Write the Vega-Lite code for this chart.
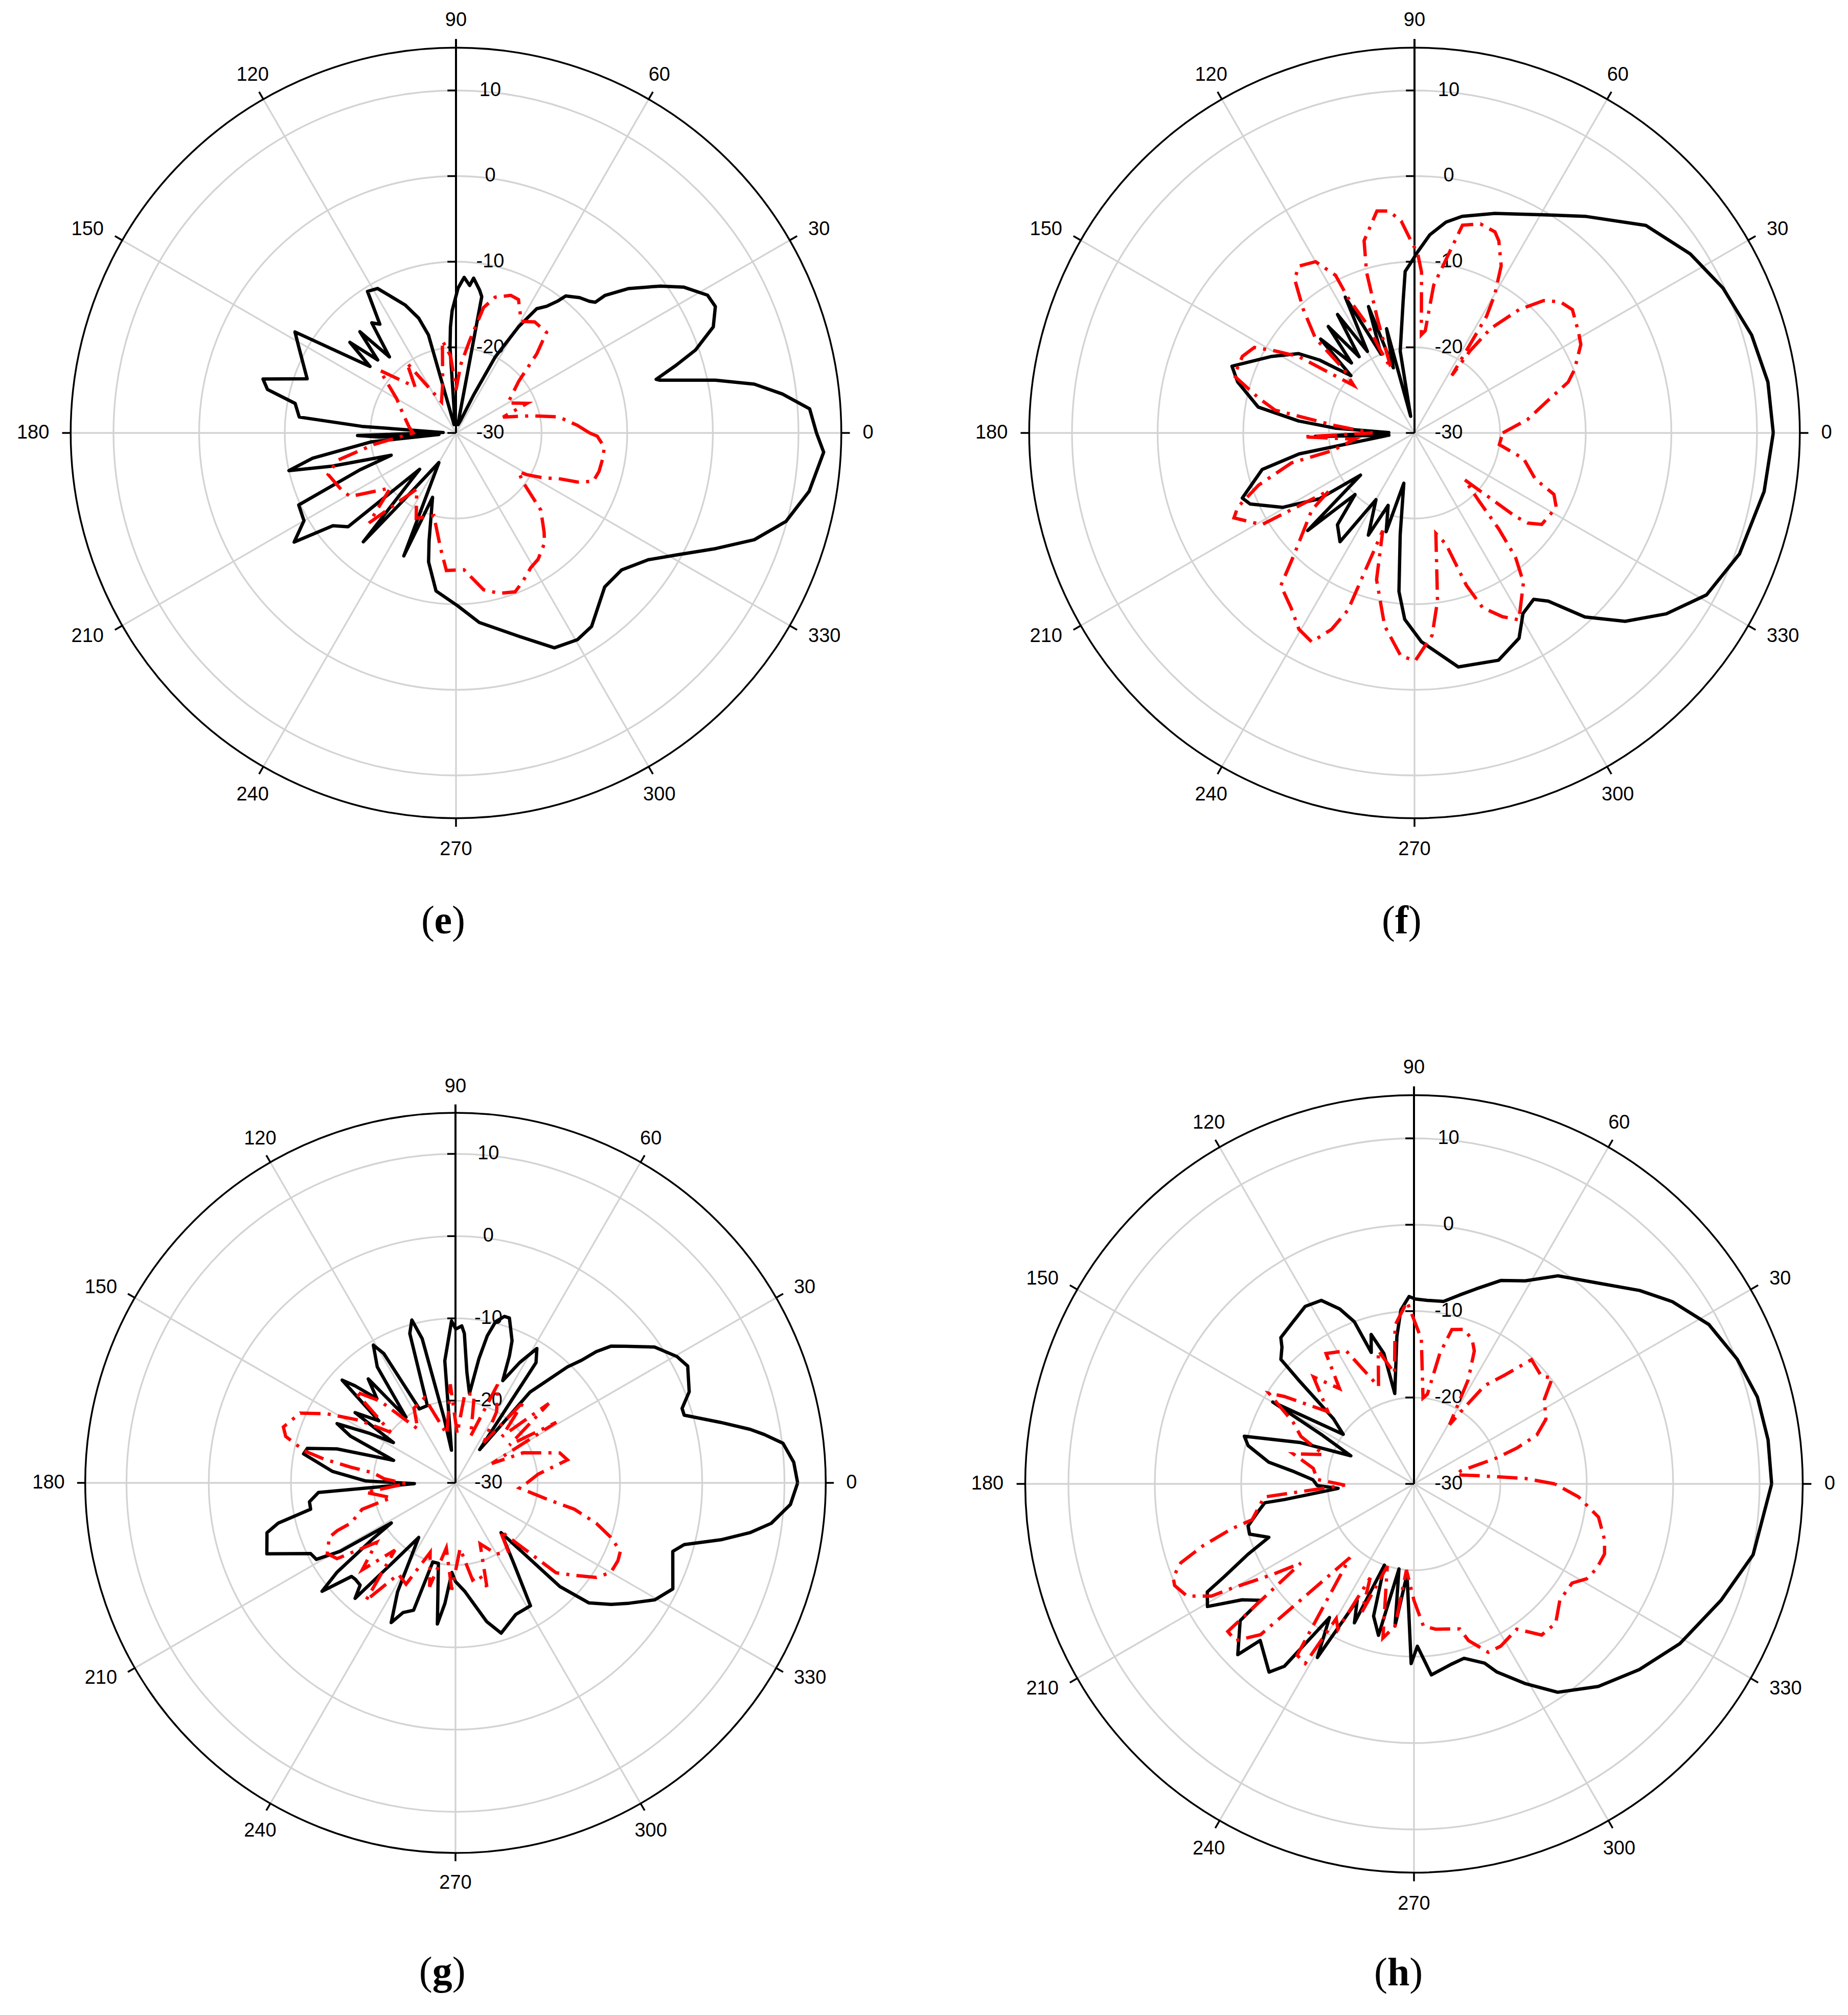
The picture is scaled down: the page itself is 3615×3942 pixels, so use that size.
{
"$schema": "https://vega.github.io/schema/vega-lite/v6.json",
"background": "white",
"padding": 0,
"bounds": "flush",
"spacing": 0,
"columns": 2,
"config": {"view": {"stroke": null}, "concat": {"spacing": 0}},
"datasets": {
"ang": [{"a":0},{"a":30},{"a":60},{"a":90},{"a":120},{"a":150},{"a":180},{"a":210},{"a":240},{"a":270},{"a":300},{"a":330}],
"db": [{"v":-30},{"v":-20},{"v":-10},{"v":0},{"v":10}],
"ring": [{"v":-20},{"v":-10},{"v":0},{"v":10}],
"outer": [{"v":15}],
"one": [{"k":1}],
"e": [
{"s":"co","a":0,"v":12.1},{"s":"co","a":3.9,"v":11.4},{"s":"co","a":6.8,"v":8.4},{"s":"co","a":9.3,"v":5.3},{"s":"co","a":11.5,"v":0.9},{"s":"co","a":14.5,"v":-5.4},{"s":"co","a":15,"v":-5.8},{"s":"co","a":17.1,"v":-3.1},{"s":"co","a":19.1,"v":-0.4},{"s":"co","a":22.4,"v":2.5},{"s":"co","a":26,"v":3.7},{"s":"co","a":28.7,"v":3.5},{"s":"co","a":32.6,"v":1.6},{"s":"co","a":35.7,"v":-0.6},{"s":"co","a":39.9,"v":-3.7},{"s":"co","a":42.7,"v":-6.3},{"s":"co","a":43.2,"v":-7.7},{"s":"co","a":44.6,"v":-8.1},{"s":"co","a":47.6,"v":-8.6},{"s":"co","a":51.3,"v":-9.5},{"s":"co","a":52.3,"v":-10.5},{"s":"co","a":54.4,"v":-11.8},{"s":"co","a":57,"v":-12.7},{"s":"co","a":59.5,"v":-15.6},{"s":"co","a":62.7,"v":-20},{"s":"co","a":65,"v":-25},{"s":"co","a":70,"v":-28.5},{"s":"co","a":76,"v":-29},{"s":"co","a":78.5,"v":-28},{"s":"co","a":79.3,"v":-13.8},{"s":"co","a":80.6,"v":-13.1},{"s":"co","a":83.5,"v":-11.8},{"s":"co","a":84.7,"v":-12.7},{"s":"co","a":87,"v":-11.8},{"s":"co","a":89.2,"v":-13.1},{"s":"co","a":91.8,"v":-15.7},{"s":"co","a":93,"v":-17.6},{"s":"co","a":94,"v":-20},{"s":"co","a":96,"v":-29},{"s":"co","a":103,"v":-29},{"s":"co","a":105.7,"v":-18.1},{"s":"co","a":108,"v":-15.9},{"s":"co","a":111.7,"v":-13.9},{"s":"co","a":118.5,"v":-10.8},{"s":"co","a":122,"v":-10.5},{"s":"co","a":125,"v":-14.5},{"s":"co","a":127.4,"v":-13.8},{"s":"co","a":131.2,"v":-18.2},{"s":"co","a":133.5,"v":-13.7},{"s":"co","a":137,"v":-17.5},{"s":"co","a":139.5,"v":-13.7},{"s":"co","a":142.3,"v":-17.3},{"s":"co","a":147.9,"v":-7.8},{"s":"co","a":151.7,"v":-9.2},{"s":"co","a":160,"v":-11.5},{"s":"co","a":164.4,"v":-6.6},{"s":"co","a":167,"v":-7.4},{"s":"co","a":169.6,"v":-10.9},{"s":"co","a":174.2,"v":-11.6},{"s":"co","a":176,"v":-19},{"s":"co","a":178,"v":-28.5},{"s":"co","a":180,"v":-27},{"s":"co","a":181.5,"v":-18.5},{"s":"co","a":183,"v":-21},{"s":"co","a":185,"v":-28},{"s":"co","a":186,"v":-20},{"s":"co","a":190,"v":-13},{"s":"co","a":192.7,"v":-10},{"s":"co","a":195,"v":-15},{"s":"co","a":199,"v":-22},{"s":"co","a":201,"v":-18},{"s":"co","a":204.6,"v":-9.8},{"s":"co","a":210,"v":-9.5},{"s":"co","a":214,"v":-7.2},{"s":"co","a":217,"v":-12},{"s":"co","a":221,"v":-13.3},{"s":"co","a":225,"v":-24},{"s":"co","a":229.6,"v":-13.3},{"s":"co","a":232,"v":-20},{"s":"co","a":240,"v":-26},{"s":"co","a":247,"v":-14.4},{"s":"co","a":250,"v":-22},{"s":"co","a":256,"v":-17},{"s":"co","a":258,"v":-14.6},{"s":"co","a":262.8,"v":-11.4},{"s":"co","a":270.6,"v":-9.8},{"s":"co","a":277,"v":-7.7},{"s":"co","a":287,"v":-5.2},{"s":"co","a":294.6,"v":-2.4},{"s":"co","a":300.4,"v":-2.0},{"s":"co","a":305,"v":-2.4},{"s":"co","a":314,"v":-5.0},{"s":"co","a":320.4,"v":-4.9},{"s":"co","a":326.6,"v":-3.1},{"s":"co","a":331,"v":-0.6},{"s":"co","a":336,"v":3.2},{"s":"co","a":340.3,"v":7.0},{"s":"co","a":345,"v":9.9},{"s":"co","a":350.6,"v":11.8},{"s":"co","a":357,"v":13.0},{"s":"co","a":360,"v":12.1},
{"s":"cx","a":0,"v":-14.4},{"s":"cx","a":3.6,"v":-15.8},{"s":"cx","a":9,"v":-17.9},{"s":"cx","a":13,"v":-21.1},{"s":"cx","a":18.6,"v":-24.2},{"s":"cx","a":22.6,"v":-21},{"s":"cx","a":30,"v":-23},{"s":"cx","a":39.5,"v":-20.5},{"s":"cx","a":44.4,"v":-16.8},{"s":"cx","a":48,"v":-14.2},{"s":"cx","a":54.7,"v":-14.1},{"s":"cx","a":59.7,"v":-14.9},{"s":"cx","a":64.9,"v":-12.8},{"s":"cx","a":68.3,"v":-12.7},{"s":"cx","a":73.9,"v":-13.5},{"s":"cx","a":77.6,"v":-15},{"s":"cx","a":81.6,"v":-19.1},{"s":"cx","a":86,"v":-22},{"s":"cx","a":90,"v":-25},{"s":"cx","a":94,"v":-21},{"s":"cx","a":98.4,"v":-19.1},{"s":"cx","a":105,"v":-24},{"s":"cx","a":115,"v":-26},{"s":"cx","a":125,"v":-20},{"s":"cx","a":131.6,"v":-22.8},{"s":"cx","a":140.6,"v":-18.5},{"s":"cx","a":150,"v":-22},{"s":"cx","a":160,"v":-23.4},{"s":"cx","a":173,"v":-24.5},{"s":"cx","a":180,"v":-25},{"s":"cx","a":188,"v":-20.3},{"s":"cx","a":193,"v":-15.8},{"s":"cx","a":198,"v":-14.3},{"s":"cx","a":207,"v":-15.1},{"s":"cx","a":211,"v":-15.6},{"s":"cx","a":220,"v":-20},{"s":"cx","a":226,"v":-15.4},{"s":"cx","a":235,"v":-22},{"s":"cx","a":245,"v":-19},{"s":"cx","a":255,"v":-20},{"s":"cx","a":262.4,"v":-16.4},{"s":"cx","a":266,"v":-13.9},{"s":"cx","a":273.3,"v":-14},{"s":"cx","a":280,"v":-11.4},{"s":"cx","a":285.1,"v":-10.6},{"s":"cx","a":290.4,"v":-10.2},{"s":"cx","a":294.3,"v":-11},{"s":"cx","a":299,"v":-12},{"s":"cx","a":303,"v":-12.4},{"s":"cx","a":308.8,"v":-13.5},{"s":"cx","a":311.6,"v":-14.5},{"s":"cx","a":317.7,"v":-16.6},{"s":"cx","a":324,"v":-20.4},{"s":"cx","a":328.2,"v":-21.4},{"s":"cx","a":329.5,"v":-20.4},{"s":"cx","a":333,"v":-18.4},{"s":"cx","a":336,"v":-16.9},{"s":"cx","a":338,"v":-14.7},{"s":"cx","a":340.6,"v":-13},{"s":"cx","a":345,"v":-12.7},{"s":"cx","a":350.3,"v":-12.6},{"s":"cx","a":354.5,"v":-12.6},{"s":"cx","a":358.7,"v":-13.5},{"s":"cx","a":360,"v":-14.4}
],
"f": [
{"s":"co","a":0,"v":11.9},{"s":"co","a":8.2,"v":11.7},{"s":"co","a":16.2,"v":11.0},{"s":"co","a":25.2,"v":9.8},{"s":"co","a":33,"v":8.4},{"s":"co","a":41.9,"v":6.3},{"s":"co","a":51.8,"v":2.2},{"s":"co","a":59.4,"v":-0.4},{"s":"co","a":69.9,"v":-2.7},{"s":"co","a":77.6,"v":-4.1},{"s":"co","a":81.5,"v":-5.1},{"s":"co","a":85.6,"v":-6.8},{"s":"co","a":89.1,"v":-8.9},{"s":"co","a":91,"v":-10},{"s":"co","a":93.3,"v":-11.1},{"s":"co","a":94.9,"v":-14.5},{"s":"co","a":99.9,"v":-20.3},{"s":"co","a":103,"v":-28},{"s":"co","a":105,"v":-17.4},{"s":"co","a":108,"v":-22},{"s":"co","a":110,"v":-14.3},{"s":"co","a":113,"v":-20},{"s":"co","a":117,"v":-12.2},{"s":"co","a":120,"v":-19},{"s":"co","a":123,"v":-13.5},{"s":"co","a":126,"v":-19},{"s":"co","a":129,"v":-14},{"s":"co","a":132,"v":-19},{"s":"co","a":135,"v":-14.5},{"s":"co","a":138,"v":-20},{"s":"co","a":142.5,"v":-16},{"s":"co","a":145.6,"v":-13.6},{"s":"co","a":152,"v":-11},{"s":"co","a":159.9,"v":-7.3},{"s":"co","a":163.9,"v":-8.5},{"s":"co","a":170.6,"v":-11.5},{"s":"co","a":174.1,"v":-16.4},{"s":"co","a":176.6,"v":-20.8},{"s":"co","a":179,"v":-27},{"s":"co","a":182,"v":-18.4},{"s":"co","a":185,"v":-27},{"s":"co","a":190.3,"v":-16.3},{"s":"co","a":193.5,"v":-11.7},{"s":"co","a":200.7,"v":-8.5},{"s":"co","a":203.4,"v":-9.1},{"s":"co","a":209.4,"v":-12.3},{"s":"co","a":214.7,"v":-16.5},{"s":"co","a":218,"v":-22},{"s":"co","a":222.4,"v":-13.1},{"s":"co","a":226,"v":-20},{"s":"co","a":230,"v":-16},{"s":"co","a":235.6,"v":-14.6},{"s":"co","a":240,"v":-21},{"s":"co","a":245.7,"v":-16.9},{"s":"co","a":250,"v":-21},{"s":"co","a":254,"v":-18},{"s":"co","a":258,"v":-24},{"s":"co","a":262,"v":-18},{"s":"co","a":264.4,"v":-11.4},{"s":"co","a":267,"v":-8.2},{"s":"co","a":271.9,"v":-5.6},{"s":"co","a":280.6,"v":-2.2},{"s":"co","a":290.3,"v":-1.7},{"s":"co","a":297,"v":-3.1},{"s":"co","a":301,"v":-5.4},{"s":"co","a":305.6,"v":-6.1},{"s":"co","a":308.5,"v":-4.9},{"s":"co","a":312.8,"v":-0.7},{"s":"co","a":318.2,"v":3.0},{"s":"co","a":324.3,"v":6.2},{"s":"co","a":331,"v":9.0},{"s":"co","a":339.6,"v":10.5},{"s":"co","a":350.5,"v":11.4},{"s":"co","a":360,"v":11.9},
{"s":"cx","a":0,"v":-19.7},{"s":"cx","a":6.8,"v":-16.7},{"s":"cx","a":13.6,"v":-14.0},{"s":"cx","a":18.3,"v":-11.1},{"s":"cx","a":21.6,"v":-9.9},{"s":"cx","a":28,"v":-8.0},{"s":"cx","a":31.7,"v":-7.5},{"s":"cx","a":38,"v":-6.6},{"s":"cx","a":42,"v":-7.1},{"s":"cx","a":45.7,"v":-8.4},{"s":"cx","a":49.7,"v":-11.1},{"s":"cx","a":53.9,"v":-14.9},{"s":"cx","a":55.9,"v":-18.4},{"s":"cx","a":57,"v":-22},{"s":"cx","a":58.3,"v":-14.0},{"s":"cx","a":59.9,"v":-11.3},{"s":"cx","a":62.6,"v":-8.0},{"s":"cx","a":66.3,"v":-5.5},{"s":"cx","a":68.2,"v":-4.7},{"s":"cx","a":72.5,"v":-4.4},{"s":"cx","a":77,"v":-5.1},{"s":"cx","a":82.6,"v":-12.6},{"s":"cx","a":84,"v":-18},{"s":"cx","a":86,"v":-18.5},{"s":"cx","a":87.5,"v":-11.2},{"s":"cx","a":89,"v":-9},{"s":"cx","a":91,"v":-7.6},{"s":"cx","a":93.6,"v":-5.2},{"s":"cx","a":96.6,"v":-3.9},{"s":"cx","a":99.6,"v":-3.7},{"s":"cx","a":104.7,"v":-6.8},{"s":"cx","a":106.6,"v":-10.4},{"s":"cx","a":108,"v":-16.0},{"s":"cx","a":110,"v":-22},{"s":"cx","a":112.4,"v":-19.6},{"s":"cx","a":113.4,"v":-16.4},{"s":"cx","a":116.2,"v":-12.4},{"s":"cx","a":116.6,"v":-9.4},{"s":"cx","a":120,"v":-6.9},{"s":"cx","a":124.7,"v":-6.3},{"s":"cx","a":127.9,"v":-7.2},{"s":"cx","a":132,"v":-10.6},{"s":"cx","a":136.3,"v":-14.0},{"s":"cx","a":138,"v":-18.9},{"s":"cx","a":142,"v":-21},{"s":"cx","a":146.6,"v":-13.8},{"s":"cx","a":149.5,"v":-11.1},{"s":"cx","a":151.9,"v":-8.8},{"s":"cx","a":156,"v":-8.0},{"s":"cx","a":162.4,"v":-7.9},{"s":"cx","a":167.3,"v":-11.3},{"s":"cx","a":170.7,"v":-13.5},{"s":"cx","a":174.8,"v":-20.8},{"s":"cx","a":180,"v":-25.1},{"s":"cx","a":182,"v":-17.0},{"s":"cx","a":186,"v":-23},{"s":"cx","a":192.2,"v":-20.1},{"s":"cx","a":193.7,"v":-15.2},{"s":"cx","a":198.5,"v":-10.8},{"s":"cx","a":202.8,"v":-7.6},{"s":"cx","a":205.2,"v":-6.7},{"s":"cx","a":211,"v":-9.2},{"s":"cx","a":214,"v":-18},{"s":"cx","a":216.9,"v":-15.0},{"s":"cx","a":225.2,"v":-10.1},{"s":"cx","a":228.8,"v":-6.3},{"s":"cx","a":234.8,"v":-5.0},{"s":"cx","a":239.5,"v":-3.4},{"s":"cx","a":243.8,"v":-2.8},{"s":"cx","a":247.1,"v":-5.1},{"s":"cx","a":249.4,"v":-7.9},{"s":"cx","a":252,"v":-18},{"s":"cx","a":255.5,"v":-12.3},{"s":"cx","a":261.2,"v":-7.2},{"s":"cx","a":266.5,"v":-3.9},{"s":"cx","a":270.2,"v":-3.4},{"s":"cx","a":275,"v":-6.3},{"s":"cx","a":277.8,"v":-10.2},{"s":"cx","a":282,"v":-18},{"s":"cx","a":285.8,"v":-16.5},{"s":"cx","a":288.8,"v":-11.2},{"s":"cx","a":291.3,"v":-8.1},{"s":"cx","a":295.6,"v":-6.2},{"s":"cx","a":299.2,"v":-5.0},{"s":"cx","a":306.1,"v":-8.4},{"s":"cx","a":309.1,"v":-11.3},{"s":"cx","a":311.3,"v":-15.1},{"s":"cx","a":313.5,"v":-19.1},{"s":"cx","a":317,"v":-22},{"s":"cx","a":320.4,"v":-14.7},{"s":"cx","a":321.5,"v":-13.1},{"s":"cx","a":324.3,"v":-11.7},{"s":"cx","a":332.3,"v":-11.3},{"s":"cx","a":336.2,"v":-12.2},{"s":"cx","a":339.1,"v":-14.9},{"s":"cx","a":346.7,"v":-16.9},{"s":"cx","a":352.2,"v":-20.0},{"s":"cx","a":360,"v":-19.7}
],
"g": [
{"s":"co","a":0,"v":11.6},{"s":"co","a":3.5,"v":11.2},{"s":"co","a":6.9,"v":10.1},{"s":"co","a":8.9,"v":8.0},{"s":"co","a":10.3,"v":6.4},{"s":"co","a":12.9,"v":3.0},{"s":"co","a":16.5,"v":-1.0},{"s":"co","a":18.2,"v":-1.0},{"s":"co","a":21.3,"v":0.5},{"s":"co","a":26.7,"v":1.6},{"s":"co","a":29.7,"v":1.0},{"s":"co","a":34.3,"v":-0.7},{"s":"co","a":38.8,"v":-3.5},{"s":"co","a":41.3,"v":-4.8},{"s":"co","a":43,"v":-6.6},{"s":"co","a":44.2,"v":-8.6},{"s":"co","a":46,"v":-10.4},{"s":"co","a":50.6,"v":-15.7},{"s":"co","a":52,"v":-22},{"s":"co","a":54,"v":-25},{"s":"co","a":56.2,"v":-12.4},{"s":"co","a":58.8,"v":-10.9},{"s":"co","a":61.9,"v":-13.4},{"s":"co","a":64.1,"v":-15.5},{"s":"co","a":65.2,"v":-16.3},{"s":"co","a":67,"v":-13.2},{"s":"co","a":68.3,"v":-11.4},{"s":"co","a":71.9,"v":-8.9},{"s":"co","a":73.6,"v":-8.9},{"s":"co","a":76,"v":-9.8},{"s":"co","a":77.8,"v":-11.7},{"s":"co","a":79.3,"v":-14.6},{"s":"co","a":81.1,"v":-19},{"s":"co","a":84.1,"v":-16.5},{"s":"co","a":86.6,"v":-11.8},{"s":"co","a":87.7,"v":-10.9},{"s":"co","a":89.9,"v":-11.3},{"s":"co","a":91.4,"v":-10.3},{"s":"co","a":95,"v":-15.1},{"s":"co","a":97,"v":-26},{"s":"co","a":100,"v":-22},{"s":"co","a":103,"v":-12},{"s":"co","a":105,"v":-9.5},{"s":"co","a":107,"v":-11},{"s":"co","a":110,"v":-20},{"s":"co","a":116,"v":-20},{"s":"co","a":119,"v":-12},{"s":"co","a":120.8,"v":-10.5},{"s":"co","a":124,"v":-13},{"s":"co","a":127,"v":-20},{"s":"co","a":130,"v":-13.5},{"s":"co","a":133,"v":-16},{"s":"co","a":136,"v":-13},{"s":"co","a":137.8,"v":-11.4},{"s":"co","a":141,"v":-18},{"s":"co","a":145,"v":-15.1},{"s":"co","a":147,"v":-21},{"s":"co","a":150,"v":-18},{"s":"co","a":153.4,"v":-13.9},{"s":"co","a":156,"v":-16},{"s":"co","a":160,"v":-22},{"s":"co","a":164,"v":-15},{"s":"co","a":166.9,"v":-11.5},{"s":"co","a":169.2,"v":-11.2},{"s":"co","a":174.7,"v":-15},{"s":"co","a":178.8,"v":-19.1},{"s":"co","a":181,"v":-25},{"s":"co","a":184,"v":-13.3},{"s":"co","a":187.4,"v":-12.1},{"s":"co","a":190.3,"v":-12.1},{"s":"co","a":192.8,"v":-7.9},{"s":"co","a":194.8,"v":-6.3},{"s":"co","a":200.6,"v":-5.5},{"s":"co","a":206,"v":-10.4},{"s":"co","a":208.8,"v":-10.7},{"s":"co","a":210.7,"v":-13.7},{"s":"co","a":212,"v":-20.8},{"s":"co","a":214,"v":-18},{"s":"co","a":217,"v":-12},{"s":"co","a":219.1,"v":-9.1},{"s":"co","a":222,"v":-13},{"s":"co","a":224,"v":-13.1},{"s":"co","a":227,"v":-13},{"s":"co","a":229,"v":-11.4},{"s":"co","a":232,"v":-18},{"s":"co","a":236,"v":-22},{"s":"co","a":242,"v":-15},{"s":"co","a":245.3,"v":-11.3},{"s":"co","a":248,"v":-13},{"s":"co","a":251.8,"v":-13.7},{"s":"co","a":254,"v":-20},{"s":"co","a":258,"v":-20},{"s":"co","a":262.7,"v":-12.7},{"s":"co","a":265,"v":-15.3},{"s":"co","a":267.7,"v":-19.1},{"s":"co","a":270,"v":-18},{"s":"co","a":274.8,"v":-16.8},{"s":"co","a":282.7,"v":-12.7},{"s":"co","a":286.9,"v":-10.9},{"s":"co","a":294.6,"v":-12.4},{"s":"co","a":301.4,"v":-12.5},{"s":"co","a":306,"v":-18},{"s":"co","a":312.5,"v":-21.8},{"s":"co","a":315.2,"v":-12.1},{"s":"co","a":318,"v":-8.2},{"s":"co","a":322,"v":-6.0},{"s":"co","a":325.3,"v":-4.3},{"s":"co","a":329.6,"v":-1.9},{"s":"co","a":334,"v":-0.6},{"s":"co","a":342.5,"v":-2.3},{"s":"co","a":344.9,"v":-1.2},{"s":"co","a":347.9,"v":3.0},{"s":"co","a":350.4,"v":6.3},{"s":"co","a":352.7,"v":8.7},{"s":"co","a":356.3,"v":10.8},{"s":"co","a":360,"v":11.6},
{"s":"cx","a":0,"v":-21.3},{"s":"cx","a":6,"v":-19.9},{"s":"cx","a":11.6,"v":-16.1},{"s":"cx","a":16,"v":-16.8},{"s":"cx","a":24,"v":-21},{"s":"cx","a":28,"v":-25},{"s":"cx","a":31,"v":-15.7},{"s":"cx","a":35,"v":-22},{"s":"cx","a":40.4,"v":-15.1},{"s":"cx","a":45,"v":-22},{"s":"cx","a":50,"v":-17},{"s":"cx","a":55,"v":-24},{"s":"cx","a":60,"v":-20},{"s":"cx","a":66.8,"v":-17},{"s":"cx","a":72,"v":-24},{"s":"cx","a":78,"v":-19},{"s":"cx","a":84,"v":-19.1},{"s":"cx","a":88,"v":-24},{"s":"cx","a":93,"v":-18},{"s":"cx","a":100,"v":-24},{"s":"cx","a":110,"v":-19},{"s":"cx","a":119,"v":-19.6},{"s":"cx","a":125,"v":-22},{"s":"cx","a":132.6,"v":-16.5},{"s":"cx","a":137.7,"v":-13.5},{"s":"cx","a":142,"v":-20},{"s":"cx","a":147,"v":-16},{"s":"cx","a":151.7,"v":-12.3},{"s":"cx","a":155.8,"v":-9.3},{"s":"cx","a":162,"v":-8.0},{"s":"cx","a":164.7,"v":-8.6},{"s":"cx","a":168,"v":-11.2},{"s":"cx","a":169.7,"v":-13.7},{"s":"cx","a":171.5,"v":-17.2},{"s":"cx","a":173,"v":-19.9},{"s":"cx","a":176.7,"v":-21.3},{"s":"cx","a":181,"v":-24},{"s":"cx","a":186,"v":-19},{"s":"cx","a":193,"v":-22},{"s":"cx","a":195.8,"v":-18.2},{"s":"cx","a":201,"v":-16.4},{"s":"cx","a":202,"v":-14.5},{"s":"cx","a":203.3,"v":-13.3},{"s":"cx","a":208.9,"v":-12.2},{"s":"cx","a":212.6,"v":-12.9},{"s":"cx","a":217,"v":-18},{"s":"cx","a":223,"v":-14.5},{"s":"cx","a":228,"v":-19},{"s":"cx","a":232.7,"v":-12.0},{"s":"cx","a":238,"v":-16.9},{"s":"cx","a":244,"v":-16.3},{"s":"cx","a":250,"v":-21},{"s":"cx","a":256,"v":-17},{"s":"cx","a":262,"v":-22},{"s":"cx","a":268,"v":-17},{"s":"cx","a":274,"v":-22},{"s":"cx","a":280,"v":-18},{"s":"cx","a":284.5,"v":-18.4},{"s":"cx","a":286.8,"v":-16.8},{"s":"cx","a":292,"v":-22},{"s":"cx","a":300,"v":-20},{"s":"cx","a":307.6,"v":-19.5},{"s":"cx","a":313,"v":-22},{"s":"cx","a":318.2,"v":-13.6},{"s":"cx","a":322.1,"v":-11.7},{"s":"cx","a":326.1,"v":-9.4},{"s":"cx","a":330,"v":-8.2},{"s":"cx","a":334.4,"v":-8.1},{"s":"cx","a":337.5,"v":-8.3},{"s":"cx","a":340.7,"v":-10.0},{"s":"cx","a":344,"v":-12.2},{"s":"cx","a":347.5,"v":-15.2},{"s":"cx","a":349.7,"v":-18.5},{"s":"cx","a":355.4,"v":-22.2},{"s":"cx","a":360,"v":-21.3}
],
"h": [
{"s":"co","a":0,"v":11.4},{"s":"co","a":7.1,"v":11.3},{"s":"co","a":14.2,"v":11.0},{"s":"co","a":21.1,"v":10.1},{"s":"co","a":28.4,"v":8.8},{"s":"co","a":35.2,"v":6.6},{"s":"co","a":40.6,"v":4.4},{"s":"co","a":47.3,"v":1.6},{"s":"co","a":55.3,"v":-0.7},{"s":"co","a":61.3,"v":-3.2},{"s":"co","a":66.9,"v":-4.4},{"s":"co","a":72.3,"v":-6.3},{"s":"co","a":76.4,"v":-7.5},{"s":"co","a":80.8,"v":-8.6},{"s":"co","a":85.8,"v":-8.7},{"s":"co","a":89.6,"v":-8.6},{"s":"co","a":91.5,"v":-8.3},{"s":"co","a":94.3,"v":-9.8},{"s":"co","a":96.6,"v":-12.8},{"s":"co","a":102,"v":-19.3},{"s":"co","a":103,"v":-14.5},{"s":"co","a":106,"v":-12},{"s":"co","a":108,"v":-14},{"s":"co","a":110.2,"v":-10},{"s":"co","a":113,"v":-8},{"s":"co","a":116.8,"v":-6.2},{"s":"co","a":121.5,"v":-5.9},{"s":"co","a":126.8,"v":-6.6},{"s":"co","a":132.3,"v":-7.1},{"s":"co","a":134,"v":-8},{"s":"co","a":136.9,"v":-8.9},{"s":"co","a":138,"v":-12},{"s":"co","a":141,"v":-18},{"s":"co","a":145,"v":-20},{"s":"co","a":149.9,"v":-11.1},{"s":"co","a":152,"v":-18},{"s":"co","a":156,"v":-22},{"s":"co","a":160,"v":-16},{"s":"co","a":164.3,"v":-9.6},{"s":"co","a":167,"v":-10.3},{"s":"co","a":171.5,"v":-13},{"s":"co","a":174,"v":-15.9},{"s":"co","a":177.7,"v":-18.3},{"s":"co","a":181,"v":-18.8},{"s":"co","a":183.4,"v":-21.2},{"s":"co","a":186.9,"v":-14.9},{"s":"co","a":187.2,"v":-12.6},{"s":"co","a":190,"v":-11.7},{"s":"co","a":194.2,"v":-10.2},{"s":"co","a":197,"v":-10.1},{"s":"co","a":200.2,"v":-12.1},{"s":"co","a":203,"v":-9.1},{"s":"co","a":206.1,"v":-5.5},{"s":"co","a":207.6,"v":-3.0},{"s":"co","a":210.7,"v":-2.2},{"s":"co","a":214,"v":-6},{"s":"co","a":217.2,"v":-7.7},{"s":"co","a":218.2,"v":-4.4},{"s":"co","a":224.1,"v":-1.6},{"s":"co","a":225.5,"v":-4.6},{"s":"co","a":232.4,"v":-2.5},{"s":"co","a":234.6,"v":-4.1},{"s":"co","a":237.7,"v":-11.7},{"s":"co","a":240.9,"v":-7.0},{"s":"co","a":244,"v":-15},{"s":"co","a":246.8,"v":-12.5},{"s":"co","a":250,"v":-20},{"s":"co","a":253,"v":-14},{"s":"co","a":256.8,"v":-12.0},{"s":"co","a":260,"v":-20},{"s":"co","a":262.4,"v":-13.4},{"s":"co","a":265.6,"v":-19.5},{"s":"co","a":269.1,"v":-9.2},{"s":"co","a":271.2,"v":-11.2},{"s":"co","a":275.2,"v":-7.8},{"s":"co","a":281.9,"v":-8.7},{"s":"co","a":286,"v":-9},{"s":"co","a":291.5,"v":-7.7},{"s":"co","a":293.8,"v":-6.2},{"s":"co","a":299.2,"v":-3.5},{"s":"co","a":304.6,"v":-0.7},{"s":"co","a":312.3,"v":1.7},{"s":"co","a":320.5,"v":3.8},{"s":"co","a":329,"v":5.9},{"s":"co","a":339.2,"v":8.0},{"s":"co","a":348.2,"v":10.1},{"s":"co","a":360,"v":11.4},
{"s":"cx","a":0,"v":-13.7},{"s":"cx","a":2.8,"v":-17.1},{"s":"cx","a":7.6,"v":-22.7},{"s":"cx","a":12,"v":-25},{"s":"cx","a":15.5,"v":-24.4},{"s":"cx","a":17.4,"v":-20},{"s":"cx","a":19.2,"v":-17.4},{"s":"cx","a":21.7,"v":-14.7},{"s":"cx","a":26.1,"v":-13},{"s":"cx","a":33,"v":-12},{"s":"cx","a":37.5,"v":-9.8},{"s":"cx","a":40,"v":-10.7},{"s":"cx","a":46.6,"v":-10.2},{"s":"cx","a":50.2,"v":-13.6},{"s":"cx","a":54.3,"v":-16},{"s":"cx","a":56.6,"v":-19.5},{"s":"cx","a":59,"v":-22},{"s":"cx","a":62.5,"v":-16.4},{"s":"cx","a":65.6,"v":-13.1},{"s":"cx","a":68,"v":-12},{"s":"cx","a":72,"v":-11.2},{"s":"cx","a":76.2,"v":-11.6},{"s":"cx","a":78.8,"v":-14.6},{"s":"cx","a":81.5,"v":-19.5},{"s":"cx","a":84,"v":-20},{"s":"cx","a":87.1,"v":-13.2},{"s":"cx","a":90,"v":-11},{"s":"cx","a":92.2,"v":-8.9},{"s":"cx","a":96.8,"v":-11.5},{"s":"cx","a":100,"v":-17},{"s":"cx","a":105,"v":-14},{"s":"cx","a":110,"v":-18},{"s":"cx","a":117,"v":-12.7},{"s":"cx","a":124,"v":-11.8},{"s":"cx","a":128,"v":-16},{"s":"cx","a":133.2,"v":-13},{"s":"cx","a":140,"v":-17},{"s":"cx","a":146,"v":-11.9},{"s":"cx","a":148,"v":-10.2},{"s":"cx","a":153,"v":-14.3},{"s":"cx","a":157.2,"v":-15.8},{"s":"cx","a":162,"v":-19},{"s":"cx","a":166,"v":-15.6},{"s":"cx","a":171.2,"v":-18.2},{"s":"cx","a":177.4,"v":-18.8},{"s":"cx","a":181,"v":-22},{"s":"cx","a":185,"v":-12.6},{"s":"cx","a":192.5,"v":-10.8},{"s":"cx","a":193.8,"v":-8.3},{"s":"cx","a":196.3,"v":-4.6},{"s":"cx","a":198.7,"v":-1.5},{"s":"cx","a":201.2,"v":-0.1},{"s":"cx","a":203,"v":0.1},{"s":"cx","a":206.3,"v":-0.7},{"s":"cx","a":209,"v":-3.2},{"s":"cx","a":209.8,"v":-5.7},{"s":"cx","a":212.6,"v":-10.5},{"s":"cx","a":215,"v":-14},{"s":"cx","a":218.4,"v":-2.5},{"s":"cx","a":221.3,"v":-2.5},{"s":"cx","a":224.5,"v":-5.1},{"s":"cx","a":229,"v":-18.7},{"s":"cx","a":235.7,"v":-6.0},{"s":"cx","a":238.8,"v":-5.7},{"s":"cx","a":240,"v":-12},{"s":"cx","a":242.4,"v":-11},{"s":"cx","a":245,"v":-18},{"s":"cx","a":247.9,"v":-14},{"s":"cx","a":252,"v":-20},{"s":"cx","a":258.6,"v":-11.8},{"s":"cx","a":262.4,"v":-13.4},{"s":"cx","a":265,"v":-20},{"s":"cx","a":270,"v":-16.5},{"s":"cx","a":273.8,"v":-13.5},{"s":"cx","a":278.5,"v":-13},{"s":"cx","a":287.5,"v":-12.4},{"s":"cx","a":289.2,"v":-10.8},{"s":"cx","a":293.8,"v":-8.7},{"s":"cx","a":298.1,"v":-8.7},{"s":"cx","a":305.3,"v":-9.4},{"s":"cx","a":310.2,"v":-7.1},{"s":"cx","a":315.5,"v":-7.0},{"s":"cx","a":321.4,"v":-8.4},{"s":"cx","a":327.9,"v":-8.4},{"s":"cx","a":331.2,"v":-7.2},{"s":"cx","a":335.1,"v":-6.7},{"s":"cx","a":339.8,"v":-6.5},{"s":"cx","a":343.6,"v":-7.0},{"s":"cx","a":349.8,"v":-8.3},{"s":"cx","a":355.5,"v":-10.9},{"s":"cx","a":360,"v":-13.7}
]
},
"concat": [
{
"width": 1807, "height": 1971,
"encoding": {
"x": {"field": "x", "type": "quantitative", "axis": null, "scale": {"domain": [-53.254, 54.627], "nice": false, "zero": false}},
"y": {"field": "y", "type": "quantitative", "axis": null, "scale": {"domain": [-67.104, 50.567], "nice": false, "zero": false}}
},
"layer": [
{"data": {"name": "ring"}, "transform": [{"calculate": "datum.v+30", "as": "r"}, {"calculate": "0", "as": "x"}, {"calculate": "0", "as": "y"}], "mark": {"type": "arc", "theta": 0, "theta2": 6.2832, "filled": false, "stroke": "#d3d3d3", "strokeWidth": 3.3}, "encoding": {"radius": {"field": "r", "type": "quantitative", "stack": null, "scale": {"type": "linear", "domain": [0, 45], "range": [0, 753.75]}}}},
{"data": {"name": "ang"}, "transform": [{"calculate": "0", "as": "x"}, {"calculate": "0", "as": "y"}, {"calculate": "45*cos(datum.a*PI/180)", "as": "x2"}, {"calculate": "45*sin(datum.a*PI/180)", "as": "y2"}], "mark": {"type": "rule", "stroke": "#d3d3d3", "strokeWidth": 3.3}, "encoding": {"x2": {"field": "x2"}, "y2": {"field": "y2"}}},
{"data": {"name": "outer"}, "transform": [{"calculate": "datum.v+30", "as": "r"}, {"calculate": "0", "as": "x"}, {"calculate": "0", "as": "y"}], "mark": {"type": "arc", "theta": 0, "theta2": 6.2832, "filled": false, "stroke": "black", "strokeWidth": 3.5}, "encoding": {"radius": {"field": "r", "type": "quantitative", "stack": null, "scale": {"type": "linear", "domain": [0, 45], "range": [0, 753.75]}}}},
{"data": {"name": "ang"}, "transform": [{"calculate": "45*cos(datum.a*PI/180)", "as": "x"}, {"calculate": "45*sin(datum.a*PI/180)", "as": "y"}, {"calculate": "46*cos(datum.a*PI/180)", "as": "x2"}, {"calculate": "46*sin(datum.a*PI/180)", "as": "y2"}], "mark": {"type": "rule", "stroke": "black", "strokeWidth": 3.5}, "encoding": {"x2": {"field": "x2"}, "y2": {"field": "y2"}}},
{"data": {"name": "one"}, "transform": [{"calculate": "0", "as": "x"}, {"calculate": "0", "as": "y"}, {"calculate": "46", "as": "y2"}], "mark": {"type": "rule", "stroke": "black", "strokeWidth": 4}, "encoding": {"y2": {"field": "y2"}}},
{"data": {"name": "db"}, "transform": [{"calculate": "datum.v+30", "as": "y"}, {"calculate": "-1", "as": "x"}, {"calculate": "0", "as": "x2"}], "mark": {"type": "rule", "stroke": "black", "strokeWidth": 3.5}, "encoding": {"x2": {"field": "x2"}}},
{"data": {"name": "db"}, "transform": [{"calculate": "datum.v+30", "as": "y"}, {"calculate": "4", "as": "x"}], "mark": {"type": "text", "align": "center", "baseline": "middle", "font": "Liberation Sans", "fontSize": 38, "fill": "black"}, "encoding": {"text": {"field": "v", "type": "nominal"}}},
{"data": {"name": "ang"}, "transform": [{"filter": "datum.a==0||datum.a==30||datum.a==330"}, {"calculate": "47.5*cos(datum.a*PI/180)", "as": "x"}, {"calculate": "47.5*sin(datum.a*PI/180)", "as": "y"}], "mark": {"type": "text", "align": "left", "baseline": "middle", "font": "Liberation Sans", "fontSize": 38, "fill": "black"}, "encoding": {"text": {"field": "a", "type": "nominal"}}},
{"data": {"name": "ang"}, "transform": [{"filter": "datum.a==150||datum.a==180||datum.a==210"}, {"calculate": "47.5*cos(datum.a*PI/180)", "as": "x"}, {"calculate": "47.5*sin(datum.a*PI/180)", "as": "y"}], "mark": {"type": "text", "align": "right", "baseline": "middle", "font": "Liberation Sans", "fontSize": 38, "fill": "black"}, "encoding": {"text": {"field": "a", "type": "nominal"}}},
{"data": {"name": "ang"}, "transform": [{"filter": "datum.a==60||datum.a==90||datum.a==120"}, {"calculate": "47.5*cos(datum.a*PI/180)", "as": "x"}, {"calculate": "47.5*sin(datum.a*PI/180)", "as": "y"}], "mark": {"type": "text", "align": "center", "baseline": "alphabetic", "font": "Liberation Sans", "fontSize": 38, "fill": "black"}, "encoding": {"text": {"field": "a", "type": "nominal"}}},
{"data": {"name": "ang"}, "transform": [{"filter": "datum.a==240||datum.a==270||datum.a==300"}, {"calculate": "47.5*cos(datum.a*PI/180)", "as": "x"}, {"calculate": "47.5*sin(datum.a*PI/180)", "as": "y"}], "mark": {"type": "text", "align": "center", "baseline": "top", "font": "Liberation Sans", "fontSize": 38, "fill": "black"}, "encoding": {"text": {"field": "a", "type": "nominal"}}},
{"data": {"name": "e"}, "transform": [{"filter": "datum.s=='co'"}, {"calculate": "max(0,datum.v+30)", "as": "r"}, {"calculate": "datum.r*cos(datum.a*PI/180)", "as": "x"}, {"calculate": "datum.r*sin(datum.a*PI/180)", "as": "y"}], "mark": {"type": "line", "color": "black", "strokeWidth": 6.5, "strokeJoin": "round"}, "encoding": {"order": {"field": "a", "type": "quantitative"}}},
{"data": {"name": "e"}, "transform": [{"filter": "datum.s=='cx'"}, {"calculate": "max(0,datum.v+30)", "as": "r"}, {"calculate": "datum.r*cos(datum.a*PI/180)", "as": "x"}, {"calculate": "datum.r*sin(datum.a*PI/180)", "as": "y"}], "mark": {"type": "line", "color": "#ff0000", "strokeWidth": 6.5, "strokeDash": [40, 14, 6, 14]}, "encoding": {"order": {"field": "a", "type": "quantitative"}}},
{"data": {"name": "one"}, "transform": [{"calculate": "-1.5", "as": "x"}, {"calculate": "-58.45", "as": "y"}], "mark": {"type": "text", "text": "(", "align": "right", "baseline": "alphabetic", "font": "Liberation Serif", "fontSize": 78, "dx": -17, "fill": "black"}, "encoding": {}},
{"data": {"name": "one"}, "transform": [{"calculate": "-1.5", "as": "x"}, {"calculate": "-58.45", "as": "y"}], "mark": {"type": "text", "text": "e", "align": "center", "baseline": "alphabetic", "font": "Liberation Serif", "fontWeight": "bold", "fontSize": 78, "fill": "black"}, "encoding": {}},
{"data": {"name": "one"}, "transform": [{"calculate": "-1.5", "as": "x"}, {"calculate": "-58.45", "as": "y"}], "mark": {"type": "text", "text": ")", "align": "left", "baseline": "alphabetic", "font": "Liberation Serif", "fontSize": 78, "dx": 17, "fill": "black"}, "encoding": {}}
]
},
{
"width": 1808, "height": 1971,
"encoding": {
"x": {"field": "x", "type": "quantitative", "axis": null, "scale": {"domain": [-57.313, 50.627], "nice": false, "zero": false}},
"y": {"field": "y", "type": "quantitative", "axis": null, "scale": {"domain": [-67.104, 50.567], "nice": false, "zero": false}}
},
"layer": [
{"data": {"name": "ring"}, "transform": [{"calculate": "datum.v+30", "as": "r"}, {"calculate": "0", "as": "x"}, {"calculate": "0", "as": "y"}], "mark": {"type": "arc", "theta": 0, "theta2": 6.2832, "filled": false, "stroke": "#d3d3d3", "strokeWidth": 3.3}, "encoding": {"radius": {"field": "r", "type": "quantitative", "stack": null, "scale": {"type": "linear", "domain": [0, 45], "range": [0, 753.75]}}}},
{"data": {"name": "ang"}, "transform": [{"calculate": "0", "as": "x"}, {"calculate": "0", "as": "y"}, {"calculate": "45*cos(datum.a*PI/180)", "as": "x2"}, {"calculate": "45*sin(datum.a*PI/180)", "as": "y2"}], "mark": {"type": "rule", "stroke": "#d3d3d3", "strokeWidth": 3.3}, "encoding": {"x2": {"field": "x2"}, "y2": {"field": "y2"}}},
{"data": {"name": "outer"}, "transform": [{"calculate": "datum.v+30", "as": "r"}, {"calculate": "0", "as": "x"}, {"calculate": "0", "as": "y"}], "mark": {"type": "arc", "theta": 0, "theta2": 6.2832, "filled": false, "stroke": "black", "strokeWidth": 3.5}, "encoding": {"radius": {"field": "r", "type": "quantitative", "stack": null, "scale": {"type": "linear", "domain": [0, 45], "range": [0, 753.75]}}}},
{"data": {"name": "ang"}, "transform": [{"calculate": "45*cos(datum.a*PI/180)", "as": "x"}, {"calculate": "45*sin(datum.a*PI/180)", "as": "y"}, {"calculate": "46*cos(datum.a*PI/180)", "as": "x2"}, {"calculate": "46*sin(datum.a*PI/180)", "as": "y2"}], "mark": {"type": "rule", "stroke": "black", "strokeWidth": 3.5}, "encoding": {"x2": {"field": "x2"}, "y2": {"field": "y2"}}},
{"data": {"name": "one"}, "transform": [{"calculate": "0", "as": "x"}, {"calculate": "0", "as": "y"}, {"calculate": "46", "as": "y2"}], "mark": {"type": "rule", "stroke": "black", "strokeWidth": 4}, "encoding": {"y2": {"field": "y2"}}},
{"data": {"name": "db"}, "transform": [{"calculate": "datum.v+30", "as": "y"}, {"calculate": "-1", "as": "x"}, {"calculate": "0", "as": "x2"}], "mark": {"type": "rule", "stroke": "black", "strokeWidth": 3.5}, "encoding": {"x2": {"field": "x2"}}},
{"data": {"name": "db"}, "transform": [{"calculate": "datum.v+30", "as": "y"}, {"calculate": "4", "as": "x"}], "mark": {"type": "text", "align": "center", "baseline": "middle", "font": "Liberation Sans", "fontSize": 38, "fill": "black"}, "encoding": {"text": {"field": "v", "type": "nominal"}}},
{"data": {"name": "ang"}, "transform": [{"filter": "datum.a==0||datum.a==30||datum.a==330"}, {"calculate": "47.5*cos(datum.a*PI/180)", "as": "x"}, {"calculate": "47.5*sin(datum.a*PI/180)", "as": "y"}], "mark": {"type": "text", "align": "left", "baseline": "middle", "font": "Liberation Sans", "fontSize": 38, "fill": "black"}, "encoding": {"text": {"field": "a", "type": "nominal"}}},
{"data": {"name": "ang"}, "transform": [{"filter": "datum.a==150||datum.a==180||datum.a==210"}, {"calculate": "47.5*cos(datum.a*PI/180)", "as": "x"}, {"calculate": "47.5*sin(datum.a*PI/180)", "as": "y"}], "mark": {"type": "text", "align": "right", "baseline": "middle", "font": "Liberation Sans", "fontSize": 38, "fill": "black"}, "encoding": {"text": {"field": "a", "type": "nominal"}}},
{"data": {"name": "ang"}, "transform": [{"filter": "datum.a==60||datum.a==90||datum.a==120"}, {"calculate": "47.5*cos(datum.a*PI/180)", "as": "x"}, {"calculate": "47.5*sin(datum.a*PI/180)", "as": "y"}], "mark": {"type": "text", "align": "center", "baseline": "alphabetic", "font": "Liberation Sans", "fontSize": 38, "fill": "black"}, "encoding": {"text": {"field": "a", "type": "nominal"}}},
{"data": {"name": "ang"}, "transform": [{"filter": "datum.a==240||datum.a==270||datum.a==300"}, {"calculate": "47.5*cos(datum.a*PI/180)", "as": "x"}, {"calculate": "47.5*sin(datum.a*PI/180)", "as": "y"}], "mark": {"type": "text", "align": "center", "baseline": "top", "font": "Liberation Sans", "fontSize": 38, "fill": "black"}, "encoding": {"text": {"field": "a", "type": "nominal"}}},
{"data": {"name": "f"}, "transform": [{"filter": "datum.s=='co'"}, {"calculate": "max(0,datum.v+30)", "as": "r"}, {"calculate": "datum.r*cos(datum.a*PI/180)", "as": "x"}, {"calculate": "datum.r*sin(datum.a*PI/180)", "as": "y"}], "mark": {"type": "line", "color": "black", "strokeWidth": 6.5, "strokeJoin": "round"}, "encoding": {"order": {"field": "a", "type": "quantitative"}}},
{"data": {"name": "f"}, "transform": [{"filter": "datum.s=='cx'"}, {"calculate": "max(0,datum.v+30)", "as": "r"}, {"calculate": "datum.r*cos(datum.a*PI/180)", "as": "x"}, {"calculate": "datum.r*sin(datum.a*PI/180)", "as": "y"}], "mark": {"type": "line", "color": "#ff0000", "strokeWidth": 6.5, "strokeDash": [40, 14, 6, 14]}, "encoding": {"order": {"field": "a", "type": "quantitative"}}},
{"data": {"name": "one"}, "transform": [{"calculate": "-1.5", "as": "x"}, {"calculate": "-58.45", "as": "y"}], "mark": {"type": "text", "text": "(", "align": "right", "baseline": "alphabetic", "font": "Liberation Serif", "fontSize": 78, "dx": -13, "fill": "black"}, "encoding": {}},
{"data": {"name": "one"}, "transform": [{"calculate": "-1.5", "as": "x"}, {"calculate": "-58.45", "as": "y"}], "mark": {"type": "text", "text": "f", "align": "center", "baseline": "alphabetic", "font": "Liberation Serif", "fontWeight": "bold", "fontSize": 78, "fill": "black"}, "encoding": {}},
{"data": {"name": "one"}, "transform": [{"calculate": "-1.5", "as": "x"}, {"calculate": "-58.45", "as": "y"}], "mark": {"type": "text", "text": ")", "align": "left", "baseline": "alphabetic", "font": "Liberation Serif", "fontSize": 78, "dx": 13, "fill": "black"}, "encoding": {}}
]
},
{
"width": 1807, "height": 1971,
"encoding": {
"x": {"field": "x", "type": "quantitative", "axis": null, "scale": {"domain": [-55.376, 56.930], "nice": false, "zero": false}},
"y": {"field": "y", "type": "quantitative", "axis": null, "scale": {"domain": [-64.699, 57.800], "nice": false, "zero": false}}
},
"layer": [
{"data": {"name": "ring"}, "transform": [{"calculate": "datum.v+30", "as": "r"}, {"calculate": "0", "as": "x"}, {"calculate": "0", "as": "y"}], "mark": {"type": "arc", "theta": 0, "theta2": 6.2832, "filled": false, "stroke": "#d3d3d3", "strokeWidth": 3.3}, "encoding": {"radius": {"field": "r", "type": "quantitative", "stack": null, "scale": {"type": "linear", "domain": [0, 45], "range": [0, 724.05]}}}},
{"data": {"name": "ang"}, "transform": [{"calculate": "0", "as": "x"}, {"calculate": "0", "as": "y"}, {"calculate": "45*cos(datum.a*PI/180)", "as": "x2"}, {"calculate": "45*sin(datum.a*PI/180)", "as": "y2"}], "mark": {"type": "rule", "stroke": "#d3d3d3", "strokeWidth": 3.3}, "encoding": {"x2": {"field": "x2"}, "y2": {"field": "y2"}}},
{"data": {"name": "outer"}, "transform": [{"calculate": "datum.v+30", "as": "r"}, {"calculate": "0", "as": "x"}, {"calculate": "0", "as": "y"}], "mark": {"type": "arc", "theta": 0, "theta2": 6.2832, "filled": false, "stroke": "black", "strokeWidth": 3.5}, "encoding": {"radius": {"field": "r", "type": "quantitative", "stack": null, "scale": {"type": "linear", "domain": [0, 45], "range": [0, 724.05]}}}},
{"data": {"name": "ang"}, "transform": [{"calculate": "45*cos(datum.a*PI/180)", "as": "x"}, {"calculate": "45*sin(datum.a*PI/180)", "as": "y"}, {"calculate": "46*cos(datum.a*PI/180)", "as": "x2"}, {"calculate": "46*sin(datum.a*PI/180)", "as": "y2"}], "mark": {"type": "rule", "stroke": "black", "strokeWidth": 3.5}, "encoding": {"x2": {"field": "x2"}, "y2": {"field": "y2"}}},
{"data": {"name": "one"}, "transform": [{"calculate": "0", "as": "x"}, {"calculate": "0", "as": "y"}, {"calculate": "46", "as": "y2"}], "mark": {"type": "rule", "stroke": "black", "strokeWidth": 4}, "encoding": {"y2": {"field": "y2"}}},
{"data": {"name": "db"}, "transform": [{"calculate": "datum.v+30", "as": "y"}, {"calculate": "-1", "as": "x"}, {"calculate": "0", "as": "x2"}], "mark": {"type": "rule", "stroke": "black", "strokeWidth": 3.5}, "encoding": {"x2": {"field": "x2"}}},
{"data": {"name": "db"}, "transform": [{"calculate": "datum.v+30", "as": "y"}, {"calculate": "4", "as": "x"}], "mark": {"type": "text", "align": "center", "baseline": "middle", "font": "Liberation Sans", "fontSize": 38, "fill": "black"}, "encoding": {"text": {"field": "v", "type": "nominal"}}},
{"data": {"name": "ang"}, "transform": [{"filter": "datum.a==0||datum.a==30||datum.a==330"}, {"calculate": "47.5*cos(datum.a*PI/180)", "as": "x"}, {"calculate": "47.5*sin(datum.a*PI/180)", "as": "y"}], "mark": {"type": "text", "align": "left", "baseline": "middle", "font": "Liberation Sans", "fontSize": 38, "fill": "black"}, "encoding": {"text": {"field": "a", "type": "nominal"}}},
{"data": {"name": "ang"}, "transform": [{"filter": "datum.a==150||datum.a==180||datum.a==210"}, {"calculate": "47.5*cos(datum.a*PI/180)", "as": "x"}, {"calculate": "47.5*sin(datum.a*PI/180)", "as": "y"}], "mark": {"type": "text", "align": "right", "baseline": "middle", "font": "Liberation Sans", "fontSize": 38, "fill": "black"}, "encoding": {"text": {"field": "a", "type": "nominal"}}},
{"data": {"name": "ang"}, "transform": [{"filter": "datum.a==60||datum.a==90||datum.a==120"}, {"calculate": "47.5*cos(datum.a*PI/180)", "as": "x"}, {"calculate": "47.5*sin(datum.a*PI/180)", "as": "y"}], "mark": {"type": "text", "align": "center", "baseline": "alphabetic", "font": "Liberation Sans", "fontSize": 38, "fill": "black"}, "encoding": {"text": {"field": "a", "type": "nominal"}}},
{"data": {"name": "ang"}, "transform": [{"filter": "datum.a==240||datum.a==270||datum.a==300"}, {"calculate": "47.5*cos(datum.a*PI/180)", "as": "x"}, {"calculate": "47.5*sin(datum.a*PI/180)", "as": "y"}], "mark": {"type": "text", "align": "center", "baseline": "top", "font": "Liberation Sans", "fontSize": 38, "fill": "black"}, "encoding": {"text": {"field": "a", "type": "nominal"}}},
{"data": {"name": "g"}, "transform": [{"filter": "datum.s=='co'"}, {"calculate": "max(0,datum.v+30)", "as": "r"}, {"calculate": "datum.r*cos(datum.a*PI/180)", "as": "x"}, {"calculate": "datum.r*sin(datum.a*PI/180)", "as": "y"}], "mark": {"type": "line", "color": "black", "strokeWidth": 6.5, "strokeJoin": "round"}, "encoding": {"order": {"field": "a", "type": "quantitative"}}},
{"data": {"name": "g"}, "transform": [{"filter": "datum.s=='cx'"}, {"calculate": "max(0,datum.v+30)", "as": "r"}, {"calculate": "datum.r*cos(datum.a*PI/180)", "as": "x"}, {"calculate": "datum.r*sin(datum.a*PI/180)", "as": "y"}], "mark": {"type": "line", "color": "#ff0000", "strokeWidth": 6.5, "strokeDash": [40, 14, 6, 14]}, "encoding": {"order": {"field": "a", "type": "quantitative"}}},
{"data": {"name": "one"}, "transform": [{"calculate": "-1.6", "as": "x"}, {"calculate": "-61.0", "as": "y"}], "mark": {"type": "text", "text": "(", "align": "right", "baseline": "alphabetic", "font": "Liberation Serif", "fontSize": 78, "dx": -19.5, "fill": "black"}, "encoding": {}},
{"data": {"name": "one"}, "transform": [{"calculate": "-1.6", "as": "x"}, {"calculate": "-61.0", "as": "y"}], "mark": {"type": "text", "text": "g", "align": "center", "baseline": "alphabetic", "font": "Liberation Serif", "fontWeight": "bold", "fontSize": 78, "fill": "black"}, "encoding": {}},
{"data": {"name": "one"}, "transform": [{"calculate": "-1.6", "as": "x"}, {"calculate": "-61.0", "as": "y"}], "mark": {"type": "text", "text": ")", "align": "left", "baseline": "alphabetic", "font": "Liberation Serif", "fontSize": 78, "dx": 19.5, "fill": "black"}, "encoding": {}}
]
},
{
"width": 1808, "height": 1971,
"encoding": {
"x": {"field": "x", "type": "quantitative", "axis": null, "scale": {"domain": [-56.746, 50.237], "nice": false, "zero": false}},
"y": {"field": "y", "type": "quantitative", "axis": null, "scale": {"domain": [-61.479, 55.148], "nice": false, "zero": false}}
},
"layer": [
{"data": {"name": "ring"}, "transform": [{"calculate": "datum.v+30", "as": "r"}, {"calculate": "0", "as": "x"}, {"calculate": "0", "as": "y"}], "mark": {"type": "arc", "theta": 0, "theta2": 6.2832, "filled": false, "stroke": "#d3d3d3", "strokeWidth": 3.3}, "encoding": {"radius": {"field": "r", "type": "quantitative", "stack": null, "scale": {"type": "linear", "domain": [0, 45], "range": [0, 760.5]}}}},
{"data": {"name": "ang"}, "transform": [{"calculate": "0", "as": "x"}, {"calculate": "0", "as": "y"}, {"calculate": "45*cos(datum.a*PI/180)", "as": "x2"}, {"calculate": "45*sin(datum.a*PI/180)", "as": "y2"}], "mark": {"type": "rule", "stroke": "#d3d3d3", "strokeWidth": 3.3}, "encoding": {"x2": {"field": "x2"}, "y2": {"field": "y2"}}},
{"data": {"name": "outer"}, "transform": [{"calculate": "datum.v+30", "as": "r"}, {"calculate": "0", "as": "x"}, {"calculate": "0", "as": "y"}], "mark": {"type": "arc", "theta": 0, "theta2": 6.2832, "filled": false, "stroke": "black", "strokeWidth": 3.5}, "encoding": {"radius": {"field": "r", "type": "quantitative", "stack": null, "scale": {"type": "linear", "domain": [0, 45], "range": [0, 760.5]}}}},
{"data": {"name": "ang"}, "transform": [{"calculate": "45*cos(datum.a*PI/180)", "as": "x"}, {"calculate": "45*sin(datum.a*PI/180)", "as": "y"}, {"calculate": "46*cos(datum.a*PI/180)", "as": "x2"}, {"calculate": "46*sin(datum.a*PI/180)", "as": "y2"}], "mark": {"type": "rule", "stroke": "black", "strokeWidth": 3.5}, "encoding": {"x2": {"field": "x2"}, "y2": {"field": "y2"}}},
{"data": {"name": "one"}, "transform": [{"calculate": "0", "as": "x"}, {"calculate": "0", "as": "y"}, {"calculate": "46", "as": "y2"}], "mark": {"type": "rule", "stroke": "black", "strokeWidth": 4}, "encoding": {"y2": {"field": "y2"}}},
{"data": {"name": "db"}, "transform": [{"calculate": "datum.v+30", "as": "y"}, {"calculate": "-1", "as": "x"}, {"calculate": "0", "as": "x2"}], "mark": {"type": "rule", "stroke": "black", "strokeWidth": 3.5}, "encoding": {"x2": {"field": "x2"}}},
{"data": {"name": "db"}, "transform": [{"calculate": "datum.v+30", "as": "y"}, {"calculate": "4", "as": "x"}], "mark": {"type": "text", "align": "center", "baseline": "middle", "font": "Liberation Sans", "fontSize": 38, "fill": "black"}, "encoding": {"text": {"field": "v", "type": "nominal"}}},
{"data": {"name": "ang"}, "transform": [{"filter": "datum.a==0||datum.a==30||datum.a==330"}, {"calculate": "47.5*cos(datum.a*PI/180)", "as": "x"}, {"calculate": "47.5*sin(datum.a*PI/180)", "as": "y"}], "mark": {"type": "text", "align": "left", "baseline": "middle", "font": "Liberation Sans", "fontSize": 38, "fill": "black"}, "encoding": {"text": {"field": "a", "type": "nominal"}}},
{"data": {"name": "ang"}, "transform": [{"filter": "datum.a==150||datum.a==180||datum.a==210"}, {"calculate": "47.5*cos(datum.a*PI/180)", "as": "x"}, {"calculate": "47.5*sin(datum.a*PI/180)", "as": "y"}], "mark": {"type": "text", "align": "right", "baseline": "middle", "font": "Liberation Sans", "fontSize": 38, "fill": "black"}, "encoding": {"text": {"field": "a", "type": "nominal"}}},
{"data": {"name": "ang"}, "transform": [{"filter": "datum.a==60||datum.a==90||datum.a==120"}, {"calculate": "47.5*cos(datum.a*PI/180)", "as": "x"}, {"calculate": "47.5*sin(datum.a*PI/180)", "as": "y"}], "mark": {"type": "text", "align": "center", "baseline": "alphabetic", "font": "Liberation Sans", "fontSize": 38, "fill": "black"}, "encoding": {"text": {"field": "a", "type": "nominal"}}},
{"data": {"name": "ang"}, "transform": [{"filter": "datum.a==240||datum.a==270||datum.a==300"}, {"calculate": "47.5*cos(datum.a*PI/180)", "as": "x"}, {"calculate": "47.5*sin(datum.a*PI/180)", "as": "y"}], "mark": {"type": "text", "align": "center", "baseline": "top", "font": "Liberation Sans", "fontSize": 38, "fill": "black"}, "encoding": {"text": {"field": "a", "type": "nominal"}}},
{"data": {"name": "h"}, "transform": [{"filter": "datum.s=='co'"}, {"calculate": "max(0,datum.v+30)", "as": "r"}, {"calculate": "datum.r*cos(datum.a*PI/180)", "as": "x"}, {"calculate": "datum.r*sin(datum.a*PI/180)", "as": "y"}], "mark": {"type": "line", "color": "black", "strokeWidth": 6.5, "strokeJoin": "round"}, "encoding": {"order": {"field": "a", "type": "quantitative"}}},
{"data": {"name": "h"}, "transform": [{"filter": "datum.s=='cx'"}, {"calculate": "max(0,datum.v+30)", "as": "r"}, {"calculate": "datum.r*cos(datum.a*PI/180)", "as": "x"}, {"calculate": "datum.r*sin(datum.a*PI/180)", "as": "y"}], "mark": {"type": "line", "color": "#ff0000", "strokeWidth": 6.5, "strokeDash": [40, 14, 6, 14]}, "encoding": {"order": {"field": "a", "type": "quantitative"}}},
{"data": {"name": "one"}, "transform": [{"calculate": "-1.8", "as": "x"}, {"calculate": "-58.05", "as": "y"}], "mark": {"type": "text", "text": "(", "align": "right", "baseline": "alphabetic", "font": "Liberation Serif", "fontSize": 78, "dx": -21.7, "fill": "black"}, "encoding": {}},
{"data": {"name": "one"}, "transform": [{"calculate": "-1.8", "as": "x"}, {"calculate": "-58.05", "as": "y"}], "mark": {"type": "text", "text": "h", "align": "center", "baseline": "alphabetic", "font": "Liberation Serif", "fontWeight": "bold", "fontSize": 78, "fill": "black"}, "encoding": {}},
{"data": {"name": "one"}, "transform": [{"calculate": "-1.8", "as": "x"}, {"calculate": "-58.05", "as": "y"}], "mark": {"type": "text", "text": ")", "align": "left", "baseline": "alphabetic", "font": "Liberation Serif", "fontSize": 78, "dx": 21.7, "fill": "black"}, "encoding": {}}
]
}
]
}
